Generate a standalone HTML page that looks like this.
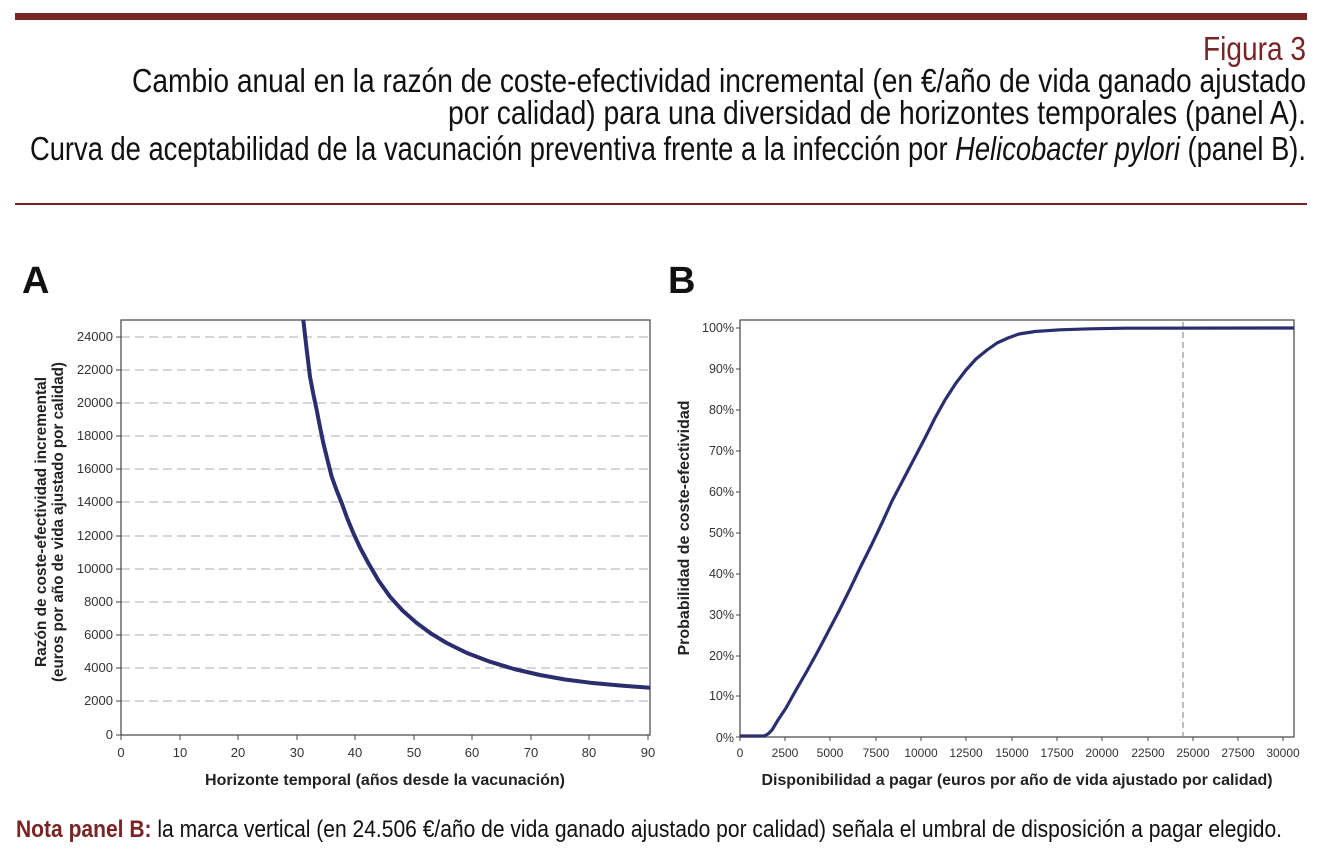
<!DOCTYPE html>
<html><head><meta charset="utf-8"><style>
html,body{margin:0;padding:0;background:#fff;}
svg{display:block;}
.t{font-family:"Liberation Sans Narrow","Liberation Sans",sans-serif;}
.a{font-family:"Liberation Sans",sans-serif;}
</style></head><body>
<svg width="1320" height="856" viewBox="0 0 1320 856" xmlns="http://www.w3.org/2000/svg">
<rect x="15" y="13" width="1292" height="7" fill="#7a2424"/>
<rect x="15" y="203" width="1292" height="2" fill="#7a2424"/>
<g class="t" font-size="33" text-anchor="end">
<text x="1306" y="60" fill="#7a2424" textLength="103" lengthAdjust="spacingAndGlyphs">Figura 3</text>
<text x="1306" y="92" fill="#111" textLength="1174" lengthAdjust="spacingAndGlyphs">Cambio anual en la razón de coste-efectividad incremental (en €/año de vida ganado ajustado</text>
<text x="1306" y="124" fill="#111" textLength="858" lengthAdjust="spacingAndGlyphs">por calidad) para una diversidad de horizontes temporales (panel A).</text>
<text x="1306" y="160" fill="#111" textLength="1276" lengthAdjust="spacingAndGlyphs">Curva de aceptabilidad de la vacunación preventiva frente a la infección por <tspan font-style="italic">Helicobacter pylori</tspan> (panel B).</text>
</g>
<text x="22" y="293" class="a" font-size="38" font-weight="bold" fill="#111">A</text>
<text x="668" y="293" class="a" font-size="38" font-weight="bold" fill="#111">B</text>

<!-- Panel A -->
<g class="a">
<g stroke="#c8c8c8" stroke-width="1.5" stroke-dasharray="9,5">
<line x1="121" x2="650" y1="337" y2="337"/><line x1="121" x2="650" y1="370" y2="370"/>
<line x1="121" x2="650" y1="403" y2="403"/><line x1="121" x2="650" y1="436" y2="436"/>
<line x1="121" x2="650" y1="469" y2="469"/><line x1="121" x2="650" y1="502" y2="502"/>
<line x1="121" x2="650" y1="536" y2="536"/><line x1="121" x2="650" y1="569" y2="569"/>
<line x1="121" x2="650" y1="602" y2="602"/><line x1="121" x2="650" y1="635" y2="635"/>
<line x1="121" x2="650" y1="668" y2="668"/><line x1="121" x2="650" y1="701" y2="701"/>
</g>
<rect x="121" y="320" width="529" height="415" fill="none" stroke="#444" stroke-width="1.2"/>
<g font-size="13" fill="#333" text-anchor="end">
<text x="113" y="341">24000</text><text x="113" y="374">22000</text><text x="113" y="407">20000</text>
<text x="113" y="440">18000</text><text x="113" y="473">16000</text><text x="113" y="506">14000</text>
<text x="113" y="540">12000</text><text x="113" y="573">10000</text><text x="113" y="606">8000</text>
<text x="113" y="639">6000</text><text x="113" y="672">4000</text><text x="113" y="705">2000</text>
<text x="113" y="739">0</text>
</g>
<g stroke="#444" stroke-width="1">
<line x1="116" x2="121" y1="337" y2="337"/><line x1="116" x2="121" y1="370" y2="370"/><line x1="116" x2="121" y1="403" y2="403"/><line x1="116" x2="121" y1="436" y2="436"/><line x1="116" x2="121" y1="469" y2="469"/><line x1="116" x2="121" y1="502" y2="502"/><line x1="116" x2="121" y1="536" y2="536"/><line x1="116" x2="121" y1="569" y2="569"/><line x1="116" x2="121" y1="602" y2="602"/><line x1="116" x2="121" y1="635" y2="635"/><line x1="116" x2="121" y1="668" y2="668"/><line x1="116" x2="121" y1="701" y2="701"/><line x1="116" x2="121" y1="735" y2="735"/>
<line x1="121" x2="121" y1="735" y2="740"/><line x1="180" x2="180" y1="735" y2="740"/><line x1="238" x2="238" y1="735" y2="740"/><line x1="297" x2="297" y1="735" y2="740"/><line x1="355" x2="355" y1="735" y2="740"/><line x1="414" x2="414" y1="735" y2="740"/><line x1="472" x2="472" y1="735" y2="740"/><line x1="531" x2="531" y1="735" y2="740"/><line x1="589" x2="589" y1="735" y2="740"/><line x1="648" x2="648" y1="735" y2="740"/>
</g>
<g font-size="13" fill="#333" text-anchor="middle">
<text x="121" y="757">0</text><text x="180" y="757">10</text><text x="238" y="757">20</text><text x="297" y="757">30</text><text x="355" y="757">40</text><text x="414" y="757">50</text><text x="472" y="757">60</text><text x="531" y="757">70</text><text x="589" y="757">80</text><text x="648" y="757">90</text>
</g>
<text x="385" y="785" font-size="16" font-weight="bold" fill="#222" text-anchor="middle" textLength="360" lengthAdjust="spacingAndGlyphs">Horizonte temporal (años desde la vacunación)</text>
<g font-size="16" font-weight="bold" fill="#222" text-anchor="middle">
<text transform="translate(46,522) rotate(-90)" textLength="290" lengthAdjust="spacingAndGlyphs">Razón de coste-efectividad incremental</text>
<text transform="translate(63,522) rotate(-90)" textLength="320" lengthAdjust="spacingAndGlyphs">(euros por año de vida ajustado por calidad)</text>
</g>
<path d="M303.3,320 L306.5,348 L310,376.7 L313.3,394 L316.7,410 L320,427 L323.3,443 L327.5,460 L331.7,476.7 L336.5,490 L341.7,503 L347.3,518.5 L353.3,533 L360.5,548.5 L368.3,563 L378.5,580.5 L390,596.7 L402.5,610.5 L416.7,623 L431,633.5 L446.7,643 L467,653 L490,661.7 L514,669 L540,675 L565,679.5 L590,682.7 L620,685.5 L650,687.8" fill="none" stroke="#2a2e6e" stroke-width="4" stroke-linejoin="round"/>
</g>

<!-- Panel B -->
<g class="a">
<rect x="740" y="320" width="554" height="417" fill="none" stroke="#444" stroke-width="1.2"/>
<line x1="1183" x2="1183" y1="322" y2="737" stroke="#999" stroke-width="1.3" stroke-dasharray="6,4"/>
<g font-size="12.5" fill="#333" text-anchor="end">
<text x="734" y="332">100%</text><text x="734" y="373">90%</text><text x="734" y="414">80%</text><text x="734" y="455">70%</text><text x="734" y="496">60%</text><text x="734" y="537">50%</text><text x="734" y="578">40%</text><text x="734" y="619">30%</text><text x="734" y="660">20%</text><text x="734" y="700">10%</text><text x="734" y="742">0%</text>
</g>
<g font-size="12" fill="#333" text-anchor="middle">
<text x="740" y="757">0</text><text x="785" y="757">2500</text><text x="830" y="757">5000</text><text x="876" y="757">7500</text><text x="921" y="757">10000</text><text x="966" y="757">12500</text><text x="1012" y="757">15000</text><text x="1057" y="757">17500</text><text x="1102" y="757">20000</text><text x="1148" y="757">22500</text><text x="1193" y="757">25000</text><text x="1238" y="757">27500</text><text x="1283" y="757">30000</text>
</g>
<g stroke="#444" stroke-width="1">
<line x1="736" x2="740" y1="328" y2="328"/><line x1="736" x2="740" y1="369" y2="369"/><line x1="736" x2="740" y1="410" y2="410"/><line x1="736" x2="740" y1="451" y2="451"/><line x1="736" x2="740" y1="492" y2="492"/><line x1="736" x2="740" y1="533" y2="533"/><line x1="736" x2="740" y1="574" y2="574"/><line x1="736" x2="740" y1="615" y2="615"/><line x1="736" x2="740" y1="656" y2="656"/><line x1="736" x2="740" y1="696" y2="696"/><line x1="736" x2="740" y1="737" y2="737"/>
<line x1="740" x2="740" y1="737" y2="741"/><line x1="785" x2="785" y1="737" y2="741"/><line x1="830" x2="830" y1="737" y2="741"/><line x1="876" x2="876" y1="737" y2="741"/><line x1="921" x2="921" y1="737" y2="741"/><line x1="966" x2="966" y1="737" y2="741"/><line x1="1012" x2="1012" y1="737" y2="741"/><line x1="1057" x2="1057" y1="737" y2="741"/><line x1="1102" x2="1102" y1="737" y2="741"/><line x1="1148" x2="1148" y1="737" y2="741"/><line x1="1193" x2="1193" y1="737" y2="741"/><line x1="1238" x2="1238" y1="737" y2="741"/><line x1="1283" x2="1283" y1="737" y2="741"/>
</g>
<text x="1017" y="785" font-size="16" font-weight="bold" fill="#222" text-anchor="middle" textLength="511" lengthAdjust="spacingAndGlyphs">Disponibilidad a pagar (euros por año de vida ajustado por calidad)</text>
<text transform="translate(689,528) rotate(-90)" font-size="16" font-weight="bold" fill="#222" text-anchor="middle" textLength="255" lengthAdjust="spacingAndGlyphs">Probabilidad de coste-efectividad</text>
<path d="M740,736 L764,736 L768,734 L772,730 L778,720 L786,708 L796,690 L807,671 L818,651 L828,632 L839,611 L850,589 L860,568 L871,546 L882,523 L892,501 L903,480 L914,459 L925,438 L935,418 L945,400 L956,383 L966,370 L976,359 L987,350 L997,343 L1008,338 L1019,334 L1035,331.5 L1060,329.8 L1090,328.8 L1125,328.2 L1294,328" fill="none" stroke="#2a2e6e" stroke-width="3.2" stroke-linejoin="round"/>
</g>

<text x="16" y="837" class="t" font-size="24" fill="#111" textLength="1266" lengthAdjust="spacingAndGlyphs"><tspan fill="#7a2424" font-weight="bold">Nota panel B:</tspan> la marca vertical (en 24.506 €/año de vida ganado ajustado por calidad) señala el umbral de disposición a pagar elegido.</text>
</svg>
</body></html>
